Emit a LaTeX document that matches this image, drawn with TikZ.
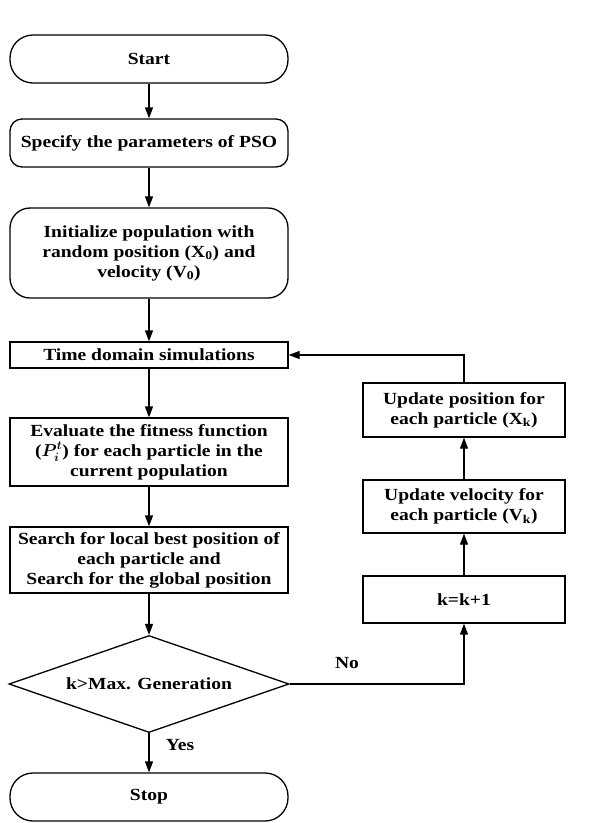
\documentclass[tikz,border=0pt]{standalone}
\usepackage{fontspec}
\setmainfont{Liberation Serif}[FakeStretch=1.15]
\usetikzlibrary{shapes.geometric,arrows.meta,positioning}
\begin{document}
\begin{tikzpicture}[x=1pt,y=-1pt,
  every node/.style={font=\bfseries\fontsize{17}{20}\selectfont},
  box/.style={draw,line width=1.3pt,minimum width=278pt,inner sep=2pt,align=center},
  rbox/.style={box,minimum width=202pt},
  flow/.style={line width=1.3pt,-{Triangle[length=11pt,width=8pt]}},
  lbl/.style={font=\bfseries\fontsize{17}{20}\selectfont}]
\useasboundingbox (0,0) rectangle (589,823);
\node[box,rounded corners=23pt,minimum height=48pt] (start) at (149,59) {Start};
\node[box,rounded corners=12pt,minimum height=48pt] (spec) at (149,143) {Specify the parameters of PSO};
\node[box,rounded corners=20pt,minimum height=90pt] (init) at (149,253) {Initialize population with\\random position (X\textsubscript{0}) and\\velocity (V\textsubscript{0})};
\node[box,minimum height=26pt] (time) at (149,355) {Time domain simulations};
\node[box,minimum height=68pt] (eval) at (149,452) {Evaluate the fitness function\\({\boldmath$\smash{P_i^t}$}) for each particle in the\\current population};
\node[box,minimum height=66pt] (search) at (149,560) {Search for local best position of\\each particle and\\Search for the global position};
\node[draw,diamond,aspect=2.9,line width=1.3pt,inner sep=0pt,minimum width=280pt,minimum height=97pt] (dec) at (149,684) {k>Max. Generation};
\node[box,rounded corners=23pt,minimum height=48pt] (stop) at (149,797) {Stop};
\node[rbox,minimum height=54pt] (upx) at (464,410) {Update position for\\each particle (X\textsubscript{k})};
\node[rbox,minimum height=53pt] (upv) at (464,506.5) {Update velocity for\\each particle (V\textsubscript{k})};
\node[rbox,minimum height=47pt] (kk) at (464,599.5) {k=k+1};
\draw[flow] (start) -- (spec);
\draw[flow] (spec) -- (init);
\draw[flow] (init) -- (time);
\draw[flow] (time) -- (eval);
\draw[flow] (eval) -- (search);
\draw[flow] (search) -- (dec);
\draw[flow] (dec) -- (stop);
\node[lbl] (yes) at (180,745) {Yes};
\draw[flow] (dec.east) -| (kk.south);
\node[lbl] (no) at (347,663) {No};
\draw[flow] (kk) -- (upv);
\draw[flow] (upv) -- (upx);
\draw[flow] (upx.north) |- (time.east);
\end{tikzpicture}
\end{document}
